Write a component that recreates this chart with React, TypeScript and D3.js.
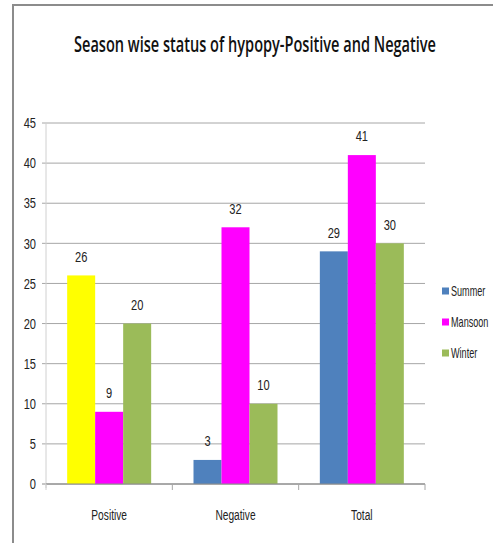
import React from 'react';
import { scaleBand, scaleLinear, range } from 'd3';

// chart data
const categories = ['Positive', 'Negative', 'Total'];
const seriesNames = ['Summer', 'Mansoon', 'Winter'];
const summer = [26, 3, 29];
const mansoon = [9, 32, 41];
const winter = [20, 10, 30];
const yTicks = [0, 5, 10, 15, 20, 25, 30, 35, 40, 45];

const seriesValues = [summer, mansoon, winter];
const seriesColors = ['#4F81BD', '#FF00FF', '#9BBB59'];
// the Positive / Summer bar is drawn yellow in the original
const yellowPoint = { series: 0, category: 0, color: '#FFFF00' };

const W = 493;
const H = 543;
const plot = { left: 46, right: 425, top: 123, bottom: 484 };
const font = '"Liberation Sans", Arial, sans-serif';
const titleScale = 0.62;

// narrow text: the original uses a condensed font, so squeeze horizontally
const NText = ({ x, y, anchor = 'start', size = 15, sx = 0.74, children }) => (
  <text
    transform={`translate(${x},${y}) scale(${sx},1)`}
    dy="0.35em"
    textAnchor={anchor}
    fontFamily={font}
    fontSize={size}
    fill="#222"
  >
    {children}
  </text>
);

const App = () => {
  const y = scaleLinear().domain([0, 45]).range([plot.bottom, plot.top]);
  const x0 = scaleBand().domain(categories).range([plot.left, plot.right]).padding(0);
  const x1 = scaleBand()
    .domain(seriesNames)
    .range([0, x0.bandwidth()])
    .paddingInner(0)
    .paddingOuter(0.756);

  const bars = [];
  seriesValues.forEach((vals, si) => {
    vals.forEach((v, ci) => {
      const isYellow = si === yellowPoint.series && ci === yellowPoint.category;
      bars.push({
        key: `${si}-${ci}`,
        x: x0(categories[ci]) + x1(seriesNames[si]),
        w: x1.bandwidth(),
        y: y(v),
        h: y(0) - y(v),
        v,
        color: isYellow ? yellowPoint.color : seriesColors[si],
      });
    });
  });

  const catTicks = range(categories.length + 1).map(i => plot.left + i * x0.step());

  return (
    <svg width={W} height={H} style={{ position: 'absolute', left: 0, top: 0, background: '#fff' }}>
      {/* frame */}
      <rect x={13} y={5} width={W + 10} height={H + 10} fill="#fff" stroke="#8c8c8c" strokeWidth={2} />

      <text
        transform={`translate(255,52) scale(${titleScale},1)`}
        textAnchor="middle"
        fontFamily='"Open Sans", "Liberation Sans", sans-serif'
        fontWeight={600}
        fontSize={21}
        textLength={362 / titleScale}
        lengthAdjust="spacingAndGlyphs"
        fill="#111"
      >
        Season wise status of hypopy-Positive and Negative
      </text>

      {/* gridlines + y ticks */}
      {yTicks.map(t => (
        <g key={t}>
          <line x1={42} x2={plot.right} y1={y(t)} y2={y(t)} stroke={t === 0 ? '#8c8c8c' : '#a6a6a6'} strokeWidth={1} />
          <NText x={36} y={y(t)} anchor="end">{t}</NText>
        </g>
      ))}
      <line x1={plot.left} x2={plot.left} y1={plot.top} y2={plot.bottom + 4} stroke="#d0d0d0" strokeWidth={1} />

      {/* bars */}
      {bars.map(b => (
        <g key={b.key}>
          <rect x={b.x} y={b.y} width={b.w} height={b.h} fill={b.color} />
          <NText x={b.x + b.w / 2} y={b.y - 19} anchor="middle">{b.v}</NText>
        </g>
      ))}

      {/* x axis */}
      <line x1={plot.left} x2={plot.right} y1={plot.bottom} y2={plot.bottom} stroke="#8c8c8c" strokeWidth={1} />
      {catTicks.map((t, i) => (
        <line key={i} x1={t} x2={t} y1={plot.bottom} y2={plot.bottom + 6} stroke={i === 0 ? '#d0d0d0' : '#a6a6a6'} strokeWidth={1} />
      ))}
      {categories.map(c => (
        <NText key={c} x={x0(c) + x0.bandwidth() / 2} y={515} anchor="middle" sx={0.68}>{c}</NText>
      ))}

      {/* legend */}
      {seriesNames.map((s, i) => (
        <g key={s} transform={`translate(442, ${291 + i * 31})`}>
          <rect x={0} y={-3.5} width={7} height={7} fill={seriesColors[i]} />
          <NText x={9} y={0} size={14} sx={0.65}>{s}</NText>
        </g>
      ))}
    </svg>
  );
};

export default App;
